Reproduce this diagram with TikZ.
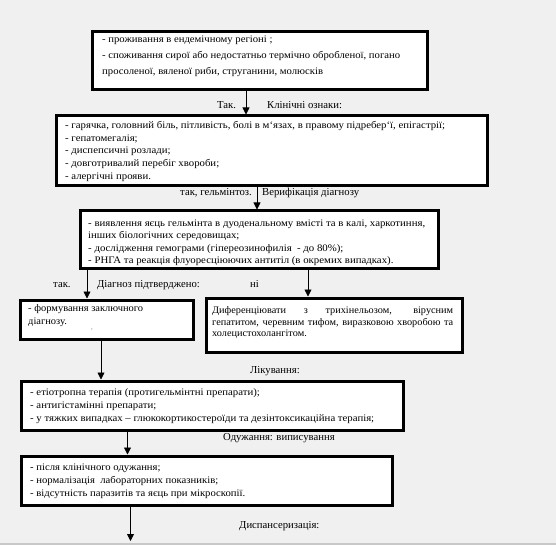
\documentclass[tikz,border=0pt]{standalone}
\usepackage{graphicx}
\usepackage{fontspec}
\setmainfont{Liberation Serif}
\usetikzlibrary{arrows.meta}
\definecolor{bg}{RGB}{240,240,240}
\definecolor{rule}{RGB}{200,200,200}
\newsavebox\fitbox
\newlength\fitw
% scale a box horizontally to a given width (in pt)
\newcommand\fitto[2]{\sbox\fitbox{#2}\setlength\fitw{\wd\fitbox}\pgfmathsetmacro\fitr{#1/\fitw}\scalebox{\fitr}[1]{\usebox\fitbox}}
% stacked lines with a given line spacing
\newcommand\blines[2]{{\fontsize{10}{#1}\selectfont\begin{tabular}[t]{@{}l@{}}#2\end{tabular}}}
\begin{document}
\begin{tikzpicture}[x=1pt,y=-1pt,
  box/.style={draw=black, line width=3pt, fill=white, anchor=north west, inner sep=0pt},
  txt/.style={anchor=base west, inner sep=0pt},
  lbl/.style={anchor=base west, inner sep=0pt, font=\fontsize{10.7}{12}\selectfont},
  arr/.style={-{Triangle[width=7pt,length=7pt]}, line width=0.8pt}]
\useasboundingbox[fill=bg] (0,0) rectangle (556,545);
\draw[rule, line width=1.5pt] (0,544) -- (556,544);

% boxes
\node[box, minimum width=335pt, minimum height=58pt] (b1) at (90.5,30.5) {};
\node[box, minimum width=431pt, minimum height=70pt] (b2) at (54.5,114.5) {};
\node[box, minimum width=358pt, minimum height=57pt] (b3) at (78.5,209.5) {};
\node[box, minimum width=173pt, minimum height=39pt] (b4) at (18.5,298.5) {};
\node[box, minimum width=256pt, minimum height=54pt] (b5) at (204.5,296.5) {};
\node[box, minimum width=382pt, minimum height=49pt] (b6) at (19.5,379.5) {};
\node[box, minimum width=371pt, minimum height=49pt] (b7) at (19.5,454.5) {};

% box texts
\node[txt] (t1) at (102,42.5) {\fitto{298}{\blines{16}{- проживання в ендемічному регіоні ;\\- споживання сирої або недостатньо термічно обробленої, погано\\просоленої, вяленої риби, струганини, молюсків}}};
\node[txt] (t2) at (65,128.5) {\fitto{380}{\blines{12.75}{- гарячка, головний біль, пітливість, болі в м`язах, в правому підребер`ї, епігастрії;\\- гепатомегалія;\\- диспепсичні розлади;\\- довготривалий перебіг хвороби;\\- алергічні прояви.}}};
\node[txt] (t3) at (88,226) {\fitto{337}{\blines{12.6}{- виявлення яєць гельмінта в дуоденальному вмісті та в калі, харкотиння,\\інших біологічних середовищах;\\- дослідження гемограми (гіпереозинофилія\ \ - до 80\%);\\- РНГА та реакція флуоресціюючих антитіл (в окремих випадках).}}};
\node[txt] (t4) at (28,311.5) {\fitto{115}{\blines{13.4}{- формування заключного\\діагнозу.}}};
\node[inner sep=0pt, font=\fontsize{5}{5}\selectfont] (t4m) at (92,330) {,};
\node[txt] (t5) at (212,313.5) {\sbox\fitbox{\fontsize{10}{11.7}\selectfont гепатитом, черевним тифом, виразковою хворобою та}\setlength\fitw{\wd\fitbox}\pgfmathsetmacro\fivr{236/\fitw}\pgfmathsetlengthmacro\fivw{241/\fivr}\scalebox{\fivr}[1]{\parbox[t]{\fivw}{\fontsize{10}{11.7}\selectfont Диференціювати з трихінельозом, вірусним\linebreak гепатитом, черевним тифом, виразковою хворобою та\linebreak холецистохолангітом.}}};
\node[txt] (t6) at (30,395) {\fitto{344}{\blines{13}{- етіотропна терапія (протигельмінтні препарати);\\- антигістамінні препарати;\\- у тяжких випадках – глюкокортикостероїди та дезінтоксикаційна терапія;}}};
\node[txt] (t7) at (30,470) {\fitto{215}{\blines{13}{- після клінічного одужання;\\- нормалізація\ \ лабораторних показників;\\- відсутність паразитів та яєць при мікроскопії.}}};

% labels
\node[lbl] (l1) at (217,108.5) {Так.};
\node[lbl] (l2) at (267,108.5) {Клінічні ознаки:};
\node[lbl] (l3) at (180,195.5) {так, гельмінтоз.};
\node[lbl] (l4) at (262,195.5) {Верифікація діагнозу};
\node[lbl] (l5) at (53,287.5) {так.};
\node[lbl] (l6) at (97,287.5) {Діагноз підтверджено:};
\node[lbl] (l7) at (250,287.5) {ні};
\node[lbl] (l8) at (250,373.5) {Лікування:};
\node[lbl] (l9) at (223,440.5) {Одужання: виписування};
\node[lbl] (l10) at (239,528) {Диспансеризація:};

% connector x positions
\coordinate (x1) at (246,0);
\coordinate (x2) at (257,0);
\coordinate (x3) at (87,0);
\coordinate (x4) at (308,0);
\coordinate (x5) at (101,0);
\coordinate (x6) at (127.5,0);
\coordinate (x7) at (130.5,0);
\coordinate (end) at (130.5,541);

\draw[arr] (x1 |- b1.south) -- (x1 |- b2.north);
\draw[arr] (x2 |- b2.south) -- (x2 |- b3.north);
\draw[arr] (x3 |- b3.south) -- (x3 |- b4.north);
\draw[arr] (x4 |- b3.south) -- (x4 |- b5.north);
\draw[arr] (x5 |- b4.south) -- (x5 |- b6.north);
\draw[arr] (x6 |- b6.south) -- (x6 |- b7.north);
\draw[arr] (x7 |- b7.south) -- (end);
\end{tikzpicture}
\end{document}
